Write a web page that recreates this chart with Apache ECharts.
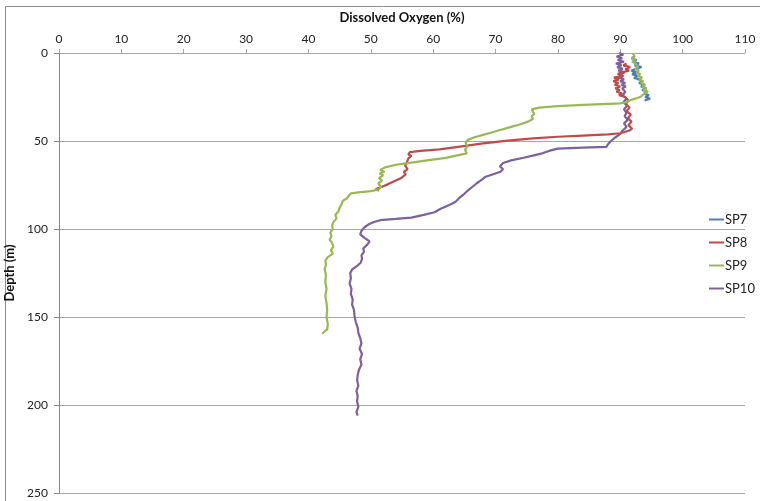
<!DOCTYPE html>
<html>
<head>
<meta charset="utf-8">
<script src="https://cdn.jsdelivr.net/npm/echarts@6/dist/echarts.min.js"></script>
<style>
  html, body { margin: 0; padding: 0; background: #fff; }
  #chart { width: 760px; height: 501px; }
</style>
</head>
<body>
<div id="chart"></div>
<script>
// values: [dissolved oxygen %, depth m]
const sp7 = [
  [92.3, 2], [91.8, 3], [92.6, 4], [92.0, 5], [93.0, 6], [92.3, 7], [93.4, 8], [92.6, 9],
  [91.8, 10], [92.6, 11], [91.9, 12], [92.8, 13], [92.2, 14], [93.0, 15], [93.6, 16], [93.0, 17],
  [93.9, 18], [93.3, 19], [94.2, 20], [93.5, 21], [94.4, 22], [93.8, 23], [94.6, 24], [94.0, 25],
  [94.8, 26], [93.9, 27]
];

const sp8 = [
  [91.0, 6], [90.5, 7], [91.6, 8], [90.8, 9], [91.4, 10], [90.2, 11], [89.6, 12], [90.3, 13],
  [89.0, 14], [89.8, 15], [88.9, 16], [89.7, 17], [89.1, 18], [90.0, 19], [89.2, 20], [89.9, 21],
  [89.4, 22], [90.3, 23], [89.8, 24], [90.8, 25], [91.3, 27], [90.9, 29], [91.5, 31], [91.0, 33],
  [91.7, 35], [91.2, 37], [91.8, 39], [91.3, 41], [91.9, 43], [91.5, 44], [91.7, 45], [90.0, 45.6],
  [88, 46.2], [84, 46.9], [80, 47.6], [76, 48.5], [72, 49.8], [68, 51.4], [64, 53.3], [61, 54.8],
  [58, 55.6], [56.3, 56.3], [56.0, 57.5], [56.5, 58.5], [56.0, 60], [55.8, 62], [55.5, 64],
  [55.9, 66], [55.3, 67.5], [55.6, 69], [54.9, 71], [54.0, 72.5], [52.8, 74.5], [51.8, 76],
  [50.8, 77.3], [51.3, 78.3]
];

const sp9 = [
  [92.0, 0], [91.7, 1], [92.3, 2], [91.8, 3], [92.4, 4], [91.9, 5], [92.5, 6], [92.2, 7],
  [92.8, 8], [92.4, 9], [93.0, 10], [92.6, 11], [93.2, 12], [92.8, 13], [93.5, 14], [93.0, 15],
  [93.7, 16], [93.3, 17], [94.0, 18], [93.5, 19], [94.2, 20], [93.7, 21], [94.4, 22], [93.9, 23],
  [94.1, 24], [93.2, 25], [92.3, 26], [91.5, 27], [91.0, 28], [90.0, 28.6], [85, 29.3],
  [80, 30.2], [77, 31], [75.8, 32], [75.9, 33], [76.2, 34.5], [75.8, 36], [76.0, 37.5],
  [75.2, 39], [74, 40.5], [72.5, 42], [71, 43.5], [69.5, 45], [68, 46.5], [66.5, 48],
  [65.5, 49.5], [65.2, 51], [65.5, 53], [65.1, 55], [65.4, 57], [65.6, 58], [62, 59.6],
  [59, 61], [56.5, 62.3], [54, 63.5], [52.3, 65], [51.5, 66.5], [52.2, 67.5], [51.4, 68.5],
  [52.0, 69.5], [51.3, 71], [51.8, 72.5], [51.2, 74], [51.6, 76], [51.3, 77.5], [50, 78.5],
  [48, 79.2], [46.8, 79.8], [46.5, 81], [46.2, 82.5], [45.5, 84], [45.3, 86], [45.0, 88],
  [44.8, 90], [44.3, 92], [44.5, 94], [44.0, 96], [43.8, 98], [43.9, 100], [43.5, 102],
  [43.7, 104], [43.4, 106], [43.8, 108], [44.0, 110], [43.6, 112], [43.9, 114], [43.1, 116],
  [42.7, 118], [42.8, 120], [42.6, 123], [42.8, 126], [42.7, 130], [42.9, 134], [42.7, 138],
  [42.9, 142], [43.0, 146], [42.9, 150], [43.1, 154], [43.0, 157], [42.5, 158.5], [42.2, 159.5]
];

const sp10 = [
  [89.8, 0], [90.5, 1], [89.4, 2], [90.3, 3], [89.6, 4], [90.6, 5], [89.3, 6], [90.2, 7],
  [89.5, 8], [90.4, 9], [89.7, 10], [90.7, 11], [89.9, 12], [90.5, 13], [89.8, 14], [90.6, 15],
  [90.0, 16], [90.8, 17], [90.2, 18], [90.9, 19], [90.3, 20], [90.8, 22], [90.4, 24], [91.0, 26],
  [90.5, 28], [91.1, 30], [90.6, 32], [91.0, 34], [90.7, 36], [91.2, 38], [90.6, 40], [91.0, 42],
  [90.4, 44], [90.0, 46], [89.2, 48], [88.5, 50], [88.0, 52], [87.8, 53.3], [84, 53.8],
  [80, 54.3], [78.7, 55.5], [77.5, 57], [76.3, 58], [74.5, 59.5], [72.5, 61], [71.2, 62.5],
  [70.7, 64.5], [71.2, 66], [70.8, 67.5], [69.5, 69], [68.3, 70.5], [67.8, 72], [67.0, 74],
  [66.3, 76], [65.6, 78], [65.0, 80], [64.3, 82], [63.6, 84.5], [62.5, 86.5], [61.2, 88.5],
  [60.2, 90.5], [58.5, 92], [56.5, 93.5], [54, 94.3], [51.5, 95], [50.5, 96], [49.6, 97.5],
  [49.0, 99], [48.5, 101], [48.3, 103], [49.0, 105], [49.8, 107], [49.4, 109], [48.8, 111],
  [48.9, 113], [48.5, 115], [48.6, 117], [48.4, 119], [47.8, 121], [47.0, 123], [46.7, 125],
  [46.8, 128], [46.6, 131], [46.9, 134], [46.8, 137], [47.1, 140], [47.0, 143], [47.3, 146],
  [47.4, 150], [47.6, 153], [47.9, 156], [48.0, 159], [48.3, 162], [48.5, 165], [48.2, 168],
  [48.6, 171], [48.3, 174], [48.5, 177], [48.1, 180], [47.9, 183], [47.8, 186], [48.0, 189],
  [47.7, 192], [47.9, 195], [47.8, 198], [48.0, 201], [47.7, 204], [47.9, 206]
];

const seriesNames = ["SP7", "SP8", "SP9", "SP10"];
const seriesColors = ["#4A7EBB", "#BE4B48", "#98B954", "#7D60A0"];
const seriesData = [sp7, sp8, sp9, sp10];

const chart = echarts.init(document.getElementById("chart"));

const font = "Lato, 'Noto Sans', sans-serif";

chart.setOption({
    animation: false,
    textStyle: { fontFamily: font },
    graphic: [
        {
            type: "rect",
            shape: { x: 5.5, y: 6.5, width: 800, height: 600 },
            style: { fill: null, stroke: "#8c8c8c", lineWidth: 1 },
            silent: true
        }
    ],
    grid: {
        left: 59,
        right: 15,
        top: 53,
        bottom: 8,
        containLabel: false,
        outerBoundsMode: "none"
    },
    legend: {
        orient: "vertical",
        left: 704,
        top: 208,
        itemWidth: 15,
        itemHeight: 2,
        itemGap: 10,
        icon: "rect",
        textStyle: { fontSize: 13, color: "#222", fontFamily: font, padding: [0, 0, 0, -4] },
        data: seriesNames
    },
    xAxis: {
        type: "value",
        position: "top",
        min: 0,
        max: 110,
        interval: 10,
        name: "Dissolved Oxygen (%)",
        nameLocation: "middle",
        nameGap: 29,
        nameTextStyle: { fontWeight: "bold", fontSize: 13, color: "#111", fontFamily: font },
        axisLine: { show: true, lineStyle: { color: "#a6a6a6", width: 1 } },
        axisTick: { show: true, length: 4, lineStyle: { color: "#a6a6a6" } },
        axisLabel: { fontSize: 12, color: "#222", margin: 8 },
        splitLine: { show: false }
    },
    yAxis: {
        type: "value",
        inverse: true,
        min: 0,
        max: 250,
        interval: 50,
        name: "Depth (m)",
        nameLocation: "middle",
        nameGap: 41,
        nameRotate: 90,
        nameTextStyle: { fontWeight: "bold", fontSize: 13, color: "#111", fontFamily: font },
        axisLine: { show: true, lineStyle: { color: "#868686", width: 1 } },
        axisTick: { show: true, length: 5, lineStyle: { color: "#868686" } },
        axisLabel: { fontSize: 12, color: "#222", margin: 11 },
        splitLine: { show: true, lineStyle: { color: "#a6a6a6", width: 1 } }
    },
    series: seriesData.map((d, i) => ({
        name: seriesNames[i],
        type: "line",
        data: d,
        showSymbol: false,
        symbol: "none",
        color: seriesColors[i],
        lineStyle: { width: 2.2, color: seriesColors[i] },
        z: 2 + (i === 3 ? 0 : i)
    }))
});
</script>
</body>
</html>
